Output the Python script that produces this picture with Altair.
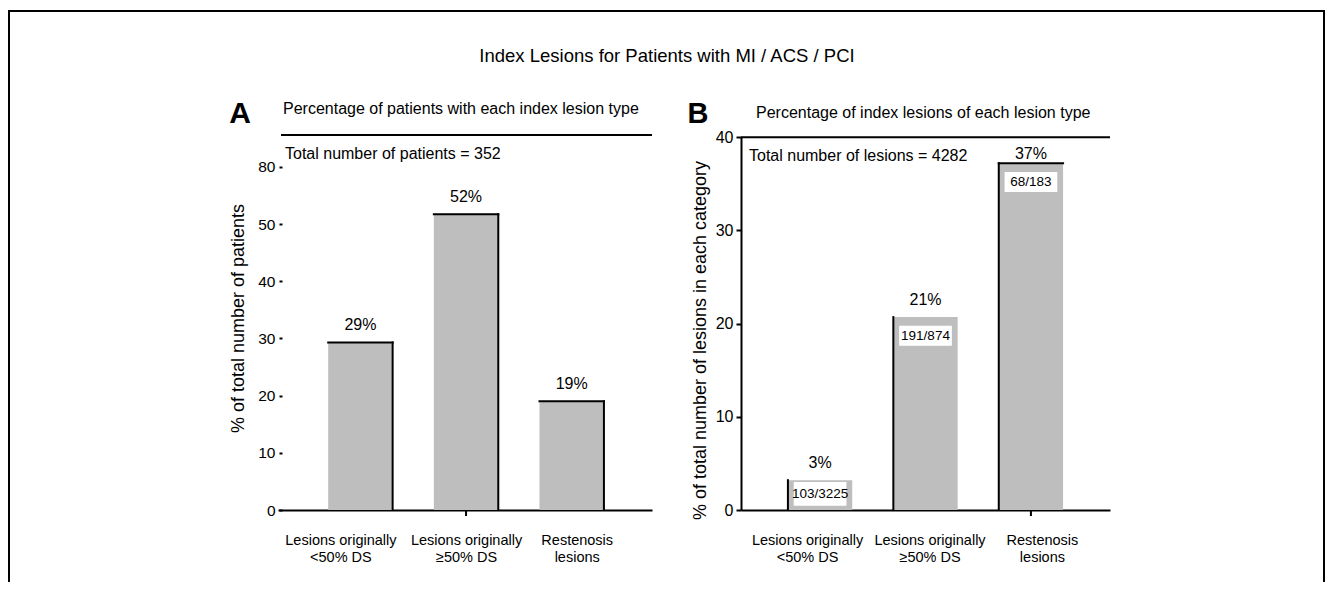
import json
import altair as alt
import pandas as pd

FONT = "Liberation Sans"

# ---------------- data ----------------
categories = ["Lesions originally|<50% DS", "Lesions originally|\u226550% DS", "Restenosis|lesions"]
category_index = [0, 1, 2]

patients_pct = [29.3, 51.7, 19.0]
patients_pct_text = ["29%", "52%", "19%"]

lesions_pct = [3.2, 20.7, 37.2]
lesions_pct_text = ["3%", "21%", "37%"]
lesions_fraction = ["103/3225", "191/874", "68/183"]

a_tick_values = [0, 10, 20, 30, 40, 50, 60]
a_tick_text = ["0", "10", "20", "30", "40", "50", "80"]
b_tick_values = [0, 10, 20, 30, 40]

main_title = "Index Lesions for Patients with MI / ACS / PCI"
panel_letters = ["A", "B"]
panel_titles = ["Percentage of patients with each index lesion type",
                "Percentage of index lesions of each lesion type"]
panel_totals = ["Total number of patients = 352", "Total number of lesions = 4282"]
y_titles = ["% of total number of patients", "% of  total number of lesions in each category"]

dfA = pd.DataFrame({"i": category_index, "v": patients_pct, "txt": patients_pct_text})
dfB = pd.DataFrame({"i": category_index, "v": lesions_pct, "txt": lesions_pct_text,
                    "frac": lesions_fraction})

W, H = 1318, 574
GRAY = "#bebebe"
HW = 0.305  # half bar width in category units

# x label expression (multi-line)
cat_expr = "split(" + " : ".join(
    f"datum.value == {i} ? {json.dumps(c)}" for i, c in zip(category_index[:-1], categories[:-1])
) + f" : {json.dumps(categories[-1])}, '|')"

ya_expr = "".join(f"datum.value == {v} ? {json.dumps(t)} : " for v, t in zip(a_tick_values, a_tick_text)) + "datum.label"


def x_axis(shifts):
    label_offset = {"condition": [{"test": "datum.value == 0", "value": shifts[0]},
                                  {"test": "datum.value == 1", "value": shifts[1]}],
                    "value": shifts[2]}
    return alt.Axis(orient="bottom", offset=-(H - 502), values=category_index, labelExpr=cat_expr,
                    ticks=False, domain=True, domainColor="black", domainWidth=2,
                    labelFont=FONT, labelFontSize=14.5, labelColor="black", labelPadding=23,
                    labelLineHeight=17, labelBaseline="top", labelOverlap=False,
                    labelOffset=label_offset,
                    labelBound=False, labelFlush=False, grid=False, title=None)


# ---------------- panel A ----------------
xA_scale = alt.Scale(domain=[-0.78, 2.76], range=[270, 644], nice=False, zero=False)
yA_scale = alt.Scale(domain=[0, 60], range=[502, 158.8], nice=False)
xA_axis = x_axis([-20, 0, 5])
yA_axis = alt.Axis(orient="left", offset=-274, values=a_tick_values, labelExpr=ya_expr,
                   domain=False, ticks=True, tickSize=3, tickWidth=2, tickColor="black",
                   labelFont=FONT, labelFontSize=15.5, labelColor="black", labelPadding=4,
                   labelOverlap=False, grid=False, title=y_titles[0], titleFont=FONT, titleFontSize=18,
                   titleFontWeight="normal", titleColor="black", titleX=-44, titleY=310,
                   titleAngle=-90, titleAlign="center", titleBaseline="middle")


def XA(f):
    return alt.X(f"{f}:Q", scale=xA_scale, axis=xA_axis)


def YA(f):
    return alt.Y(f"{f}:Q", scale=yA_scale, axis=yA_axis)


baseA = alt.Chart(dfA).transform_calculate(
    lo=f"datum.i - {HW}", hi=f"datum.i + {HW}", ly="datum.v + 3"
)
barsA = baseA.mark_rect(color=GRAY).encode(x=XA("lo"), x2="hi:Q", y=YA("v"), y2=alt.Y2Datum(0))
topA = baseA.mark_rule(color="black", strokeWidth=2, strokeCap="square").encode(
    x=XA("lo"), x2="hi:Q", y=YA("v"))
rightA = baseA.mark_rule(color="black", strokeWidth=2, strokeCap="square").encode(
    x=XA("hi"), y=YA("v"), y2=alt.Y2Datum(0))
pctA = baseA.mark_text(font=FONT, fontSize=16, color="black", baseline="middle").encode(
    x=XA("i"), y=YA("ly"), text="txt:N")
tickA = baseA.transform_filter("datum.i == 1").mark_rule(color="black", strokeWidth=2).encode(
    x=XA("i"), y=alt.value(502), y2=alt.value(508))
panelA = alt.layer(barsA, topA, rightA, pctA, tickA)

# ---------------- panel B ----------------
xB_scale = alt.Scale(domain=[-0.75, 2.75], range=[733, 1102], nice=False, zero=False)
yB_scale = alt.Scale(domain=[0, 40], range=[502, 129.2], nice=False)
xB_axis = x_axis([-13, 4, 11])
yB_axis = alt.Axis(orient="left", offset=-733, values=b_tick_values,
                   domain=True, domainColor="black", domainWidth=2,
                   ticks=True, tickSize=5, tickWidth=2, tickColor="black",
                   labelFont=FONT, labelFontSize=16, labelColor="black", labelPadding=3,
                   labelOverlap=False, grid=False, title=y_titles[1], titleFont=FONT, titleFontSize=18,
                   titleFontWeight="normal", titleColor="black", titleX=-41, titleY=332,
                   titleAngle=-90, titleAlign="center", titleBaseline="middle")


def XB(f):
    return alt.X(f"{f}:Q", scale=xB_scale, axis=xB_axis)


def YB(f):
    return alt.Y(f"{f}:Q", scale=yB_scale, axis=yB_axis)


baseB = alt.Chart(dfB).transform_calculate(
    lo=f"datum.i - {HW}", hi=f"datum.i + {HW}",
    blo="datum.i - 0.25", bhi="datum.i + 0.25",
    ly="min(datum.v + 1.8, 38.2)",
    bt="datum.v - min(0.93, datum.v * 0.06)",
).transform_calculate(
    bb="datum.v < 5 ? 0.45 : datum.bt - 2.15"
).transform_calculate(
    bm="(datum.bt + datum.bb) / 2"
)
barsB = baseB.mark_rect(color=GRAY).encode(x=XB("lo"), x2="hi:Q", y=YB("v"), y2=alt.Y2Datum(0))
leftB = baseB.mark_rule(color="black", strokeWidth=2, strokeCap="square").encode(
    x=XB("lo"), y=YB("v"), y2=alt.Y2Datum(0))
topB = baseB.transform_filter("datum.i == 2").mark_rule(
    color="black", strokeWidth=2, strokeCap="square").encode(x=XB("lo"), x2="hi:Q", y=YB("v"))
boxB = baseB.mark_rect(color="white").encode(x=XB("blo"), x2="bhi:Q", y=YB("bt"), y2="bb:Q")
fracB = baseB.mark_text(font=FONT, fontSize=13.5, color="black", baseline="middle").encode(
    x=XB("i"), y=YB("bm"), text="frac:N")
pctB = baseB.mark_text(font=FONT, fontSize=16, color="black", baseline="middle").encode(
    x=XB("i"), y=YB("ly"), text="txt:N")
tickB = baseB.transform_filter("datum.i == 2").mark_rule(color="black", strokeWidth=2).encode(
    x=XB("i"), y=alt.value(502), y2=alt.value(508))
toplineB = baseB.transform_filter("datum.i == 0").mark_rule(color="black", strokeWidth=2).encode(
    x=alt.value(733), x2=alt.value(1102),
    y=alt.YDatum(b_tick_values[-1], scale=yB_scale, axis=yB_axis))
panelB = alt.layer(barsB, boxB, leftB, topB, fracB, pctB, tickB, toplineB)

# ---------------- decorations ----------------
frame_df = pd.DataFrame({"k": [0]})
frame_left = alt.Chart(frame_df).mark_rule(color="black", strokeWidth=2).encode(
    x=alt.value(1), y=alt.value(3), y2=alt.value(H))
frame_right = alt.Chart(frame_df).mark_rule(color="black", strokeWidth=2).encode(
    x=alt.value(W - 2), y=alt.value(3), y2=alt.value(H))
frame_top = alt.Chart(frame_df).mark_rule(color="black", strokeWidth=2).encode(
    x=alt.value(0), x2=alt.value(W - 1), y=alt.value(3))
underlineA = alt.Chart(frame_df).mark_rule(color="black", strokeWidth=2).encode(
    x=alt.value(273), x2=alt.value(644), y=alt.value(127))

title_t = alt.Chart(pd.DataFrame({"t": [main_title]})).mark_text(
    font=FONT, fontSize=18.5, color="black", align="center", baseline="middle").encode(
    x=alt.value(659), y=alt.value(48), text="t:N")
letterA = alt.Chart(pd.DataFrame({"t": [panel_letters[0]]})).mark_text(
    font=FONT, fontSize=30, fontWeight="bold", color="black", align="center", baseline="middle").encode(
    x=alt.value(232), y=alt.value(106), text="t:N")
letterB = alt.Chart(pd.DataFrame({"t": [panel_letters[1]]})).mark_text(
    font=FONT, fontSize=29, fontWeight="bold", color="black", align="center", baseline="middle").encode(
    x=alt.value(690), y=alt.value(106), text="t:N")
ptitleA = alt.Chart(pd.DataFrame({"t": [panel_titles[0]]})).mark_text(
    font=FONT, fontSize=16, color="black", align="left", baseline="middle").encode(
    x=alt.value(275), y=alt.value(101), text="t:N")
ptitleB = alt.Chart(pd.DataFrame({"t": [panel_titles[1]]})).mark_text(
    font=FONT, fontSize=16, color="black", align="left", baseline="middle").encode(
    x=alt.value(748), y=alt.value(105), text="t:N")
totalA = alt.Chart(pd.DataFrame({"t": [panel_totals[0]]})).mark_text(
    font=FONT, fontSize=16, color="black", align="left", baseline="middle").encode(
    x=alt.value(277), y=alt.value(146), text="t:N")
totalB = alt.Chart(pd.DataFrame({"t": [panel_totals[1]]})).mark_text(
    font=FONT, fontSize=16, color="black", align="left", baseline="middle").encode(
    x=alt.value(741), y=alt.value(148), text="t:N")

deco = alt.layer(frame_left, frame_right, frame_top, underlineA, title_t, letterA, letterB,
                 ptitleA, ptitleB, totalA, totalB)

chart = alt.layer(panelA, panelB, deco).resolve_scale(
    x="independent", y="independent"
).properties(
    width=W, height=H, autosize=alt.AutoSizeParams(type="none"), padding=0
).configure_view(stroke=None)

chart.save("out.html", embed_options={"renderer": "svg", "actions": False})
